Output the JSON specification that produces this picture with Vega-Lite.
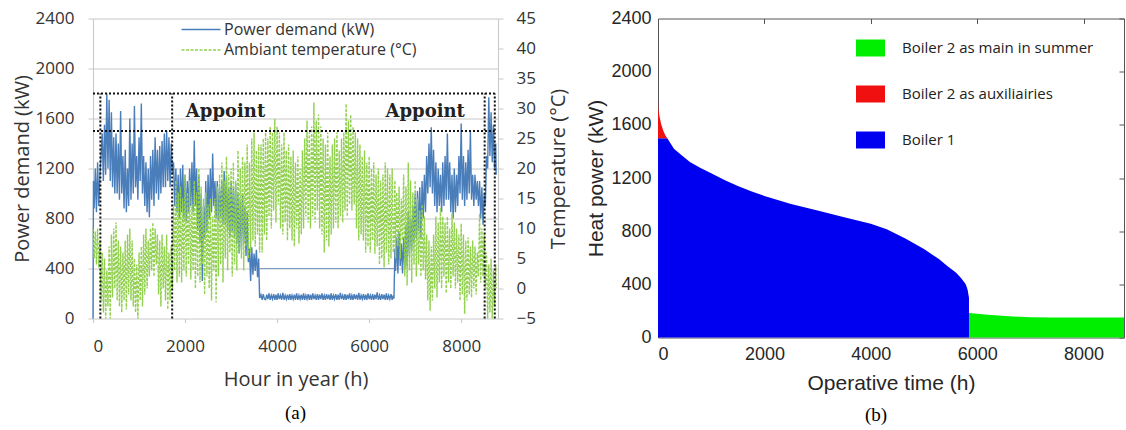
{
  "$schema": "https://vega.github.io/schema/vega-lite/v6.json",
  "background": "white",
  "padding": {"left": 12, "top": 8.5, "right": 0, "bottom": 0},
  "spacing": 16,
  "config": {"view": {"stroke": null}, "font": "Open Sans"},
  "resolve": {"scale": {"color": "independent"}, "legend": {"color": "independent"}},
  "datasets": {
    "demand": [
      {"h":0,"p":0,"t":10},{"h":10,"p":1100,"t":8},{"h":25,"p":880,"t":5},{"h":50,"p":1200,"t":9.5},{"h":75,"p":850,"t":4},
      {"h":100,"p":1250,"t":10},{"h":125,"p":900,"t":3.5},{"h":150,"p":1150,"t":8},{"h":175,"p":1300,"t":-2},{"h":200,"p":1480,"t":6},
      {"h":225,"p":1100,"t":-4},{"h":250,"p":1550,"t":5},{"h":275,"p":1150,"t":-5},{"h":300,"p":1800,"t":3},{"h":325,"p":1200,"t":-3},
      {"h":350,"p":1750,"t":7},{"h":375,"p":1100,"t":-5},{"h":400,"p":1650,"t":9},{"h":425,"p":1050,"t":-1.5},{"h":450,"p":1450,"t":10},
      {"h":475,"p":1000,"t":0},{"h":500,"p":1480,"t":11},{"h":525,"p":1000,"t":-2},{"h":550,"p":1400,"t":8},{"h":575,"p":950,"t":-3},
      {"h":600,"p":1660,"t":7},{"h":625,"p":1000,"t":-4},{"h":650,"p":1300,"t":6},{"h":675,"p":880,"t":-2},{"h":700,"p":1350,"t":8},
      {"h":725,"p":850,"t":-3.5},{"h":750,"p":1200,"t":9},{"h":775,"p":900,"t":-1},{"h":800,"p":1600,"t":10},{"h":825,"p":950,"t":-2},
      {"h":850,"p":1400,"t":8},{"h":875,"p":1000,"t":-3},{"h":900,"p":1700,"t":5},{"h":925,"p":1050,"t":-4},{"h":950,"p":1300,"t":4},
      {"h":975,"p":950,"t":-5},{"h":1000,"p":1450,"t":6},{"h":1025,"p":1100,"t":-2},{"h":1050,"p":1720,"t":7},{"h":1075,"p":1000,"t":-3},
      {"h":1100,"p":1300,"t":9},{"h":1125,"p":900,"t":-1},{"h":1150,"p":1250,"t":10},{"h":1175,"p":850,"t":0},{"h":1200,"p":1200,"t":8},
      {"h":1225,"p":810,"t":2},{"h":1250,"p":1300,"t":10},{"h":1275,"p":950,"t":3},{"h":1300,"p":1350,"t":11},{"h":1325,"p":900,"t":2},
      {"h":1350,"p":1450,"t":10},{"h":1375,"p":1000,"t":4},{"h":1400,"p":1350,"t":9},{"h":1425,"p":950,"t":-1},{"h":1450,"p":1380,"t":8},
      {"h":1475,"p":1000,"t":-3},{"h":1500,"p":1420,"t":9},{"h":1525,"p":1050,"t":0},{"h":1550,"p":1480,"t":7},{"h":1575,"p":1050,"t":-2},
      {"h":1600,"p":1500,"t":9},{"h":1625,"p":1100,"t":-3.5},{"h":1650,"p":1450,"t":6},{"h":1675,"p":1050,"t":-2},{"h":1700,"p":1400,"t":7},
      {"h":1725,"p":1150,"t":0},{"h":1750,"p":1250,"t":14},{"h":1775,"p":900,"t":3},{"h":1800,"p":1200,"t":18},{"h":1825,"p":850,"t":1},
      {"h":1850,"p":1150,"t":16},{"h":1875,"p":800,"t":2},{"h":1900,"p":1200,"t":17},{"h":1925,"p":850,"t":1},{"h":1950,"p":1230,"t":15},
      {"h":1975,"p":800,"t":3},{"h":2000,"p":1150,"t":19},{"h":2025,"p":780,"t":2},{"h":2050,"p":1100,"t":16},{"h":2075,"p":850,"t":4},
      {"h":2100,"p":1200,"t":18},{"h":2125,"p":900,"t":1.5},{"h":2150,"p":1250,"t":14},{"h":2175,"p":850,"t":3},{"h":2200,"p":1424,"t":18},
      {"h":2225,"p":900,"t":0},{"h":2250,"p":1200,"t":16},{"h":2275,"p":700,"t":2},{"h":2300,"p":1150,"t":20},{"h":2325,"p":600,"t":1},
      {"h":2350,"p":1000,"t":17},{"h":2375,"p":300,"t":4},{"h":2400,"p":900,"t":15},{"h":2425,"p":650,"t":-1},{"h":2450,"p":1100,"t":16},
      {"h":2475,"p":700,"t":2},{"h":2500,"p":1150,"t":14},{"h":2525,"p":800,"t":0},{"h":2550,"p":1200,"t":15},{"h":2575,"p":850,"t":-2},
      {"h":2600,"p":1320,"t":12},{"h":2625,"p":900,"t":3},{"h":2650,"p":1100,"t":15},{"h":2675,"p":800,"t":-2.3},{"h":2700,"p":1100,"t":17},
      {"h":2725,"p":780,"t":2},{"h":2750,"p":1050,"t":19},{"h":2775,"p":800,"t":4},{"h":2800,"p":1100,"t":21},{"h":2825,"p":750,"t":1},
      {"h":2850,"p":1180,"t":18},{"h":2875,"p":750,"t":5},{"h":2900,"p":1130,"t":22},{"h":2925,"p":700,"t":3},{"h":2950,"p":1050,"t":19},
      {"h":2975,"p":650,"t":6},{"h":3000,"p":1100,"t":20},{"h":3025,"p":700,"t":2},{"h":3050,"p":1050,"t":21},{"h":3075,"p":650,"t":4},
      {"h":3100,"p":1080,"t":18},{"h":3125,"p":600,"t":3},{"h":3150,"p":1000,"t":23},{"h":3175,"p":520,"t":6},{"h":3200,"p":950,"t":20},
      {"h":3225,"p":550,"t":5},{"h":3250,"p":1000,"t":22},{"h":3275,"p":600,"t":3},{"h":3300,"p":900,"t":21},{"h":3325,"p":500,"t":7},
      {"h":3350,"p":850,"t":24},{"h":3375,"p":450,"t":5},{"h":3400,"p":560,"t":21},{"h":3425,"p":300,"t":6},{"h":3450,"p":570,"t":25},
      {"h":3475,"p":350,"t":8},{"h":3500,"p":520,"t":26},{"h":3525,"p":380,"t":7},{"h":3550,"p":550,"t":23},{"h":3575,"p":330,"t":9},
      {"h":3600,"p":480,"t":24},{"h":3620,"p":165,"t":6},
      {"h":3650,"p":190,"t":24},{"h":3675,"p":150,"t":6},{"h":3700,"p":195,"t":25},{"h":3725,"p":155,"t":9},{"h":3750,"p":150,"t":26},
      {"h":3775,"p":190,"t":8},{"h":3800,"p":155,"t":25},{"h":3825,"p":200,"t":12},{"h":3850,"p":150,"t":27},{"h":3875,"p":185,"t":10},
      {"h":3900,"p":155,"t":26},{"h":3925,"p":195,"t":13},{"h":3950,"p":150,"t":28.3},{"h":3975,"p":190,"t":11},{"h":4000,"p":150,"t":27},
      {"h":4025,"p":200,"t":14},{"h":4050,"p":155,"t":26},{"h":4075,"p":185,"t":10},{"h":4100,"p":150,"t":24},{"h":4125,"p":205,"t":9},
      {"h":4150,"p":150,"t":26},{"h":4175,"p":185,"t":11},{"h":4200,"p":155,"t":23},{"h":4225,"p":190,"t":8},{"h":4250,"p":150,"t":24},
      {"h":4275,"p":195,"t":10},{"h":4300,"p":150,"t":22},{"h":4325,"p":185,"t":8},{"h":4350,"p":155,"t":23},{"h":4375,"p":190,"t":7},
      {"h":4400,"p":150,"t":21},{"h":4425,"p":200,"t":10},{"h":4450,"p":150,"t":22},{"h":4475,"p":185,"t":7.5},{"h":4500,"p":155,"t":20},
      {"h":4525,"p":190,"t":9},{"h":4550,"p":150,"t":23},{"h":4575,"p":200,"t":10},{"h":4600,"p":150,"t":25},{"h":4625,"p":185,"t":12},
      {"h":4650,"p":155,"t":28},{"h":4675,"p":195,"t":11},{"h":4700,"p":150,"t":26},{"h":4725,"p":190,"t":10},{"h":4750,"p":150,"t":27},
      {"h":4775,"p":200,"t":12},{"h":4800,"p":155,"t":31},{"h":4825,"p":185,"t":11},{"h":4850,"p":150,"t":28},{"h":4875,"p":195,"t":13},
      {"h":4900,"p":150,"t":29},{"h":4925,"p":190,"t":10},{"h":4950,"p":155,"t":27},{"h":4975,"p":200,"t":9},{"h":5000,"p":150,"t":25},
      {"h":5025,"p":185,"t":6},{"h":5050,"p":150,"t":24},{"h":5075,"p":195,"t":8},{"h":5100,"p":155,"t":26},{"h":5125,"p":190,"t":7},
      {"h":5150,"p":150,"t":22},{"h":5175,"p":200,"t":9},{"h":5200,"p":150,"t":24},{"h":5225,"p":185,"t":10},{"h":5250,"p":155,"t":25},
      {"h":5275,"p":195,"t":11},{"h":5300,"p":150,"t":26},{"h":5325,"p":190,"t":10},{"h":5350,"p":150,"t":23},{"h":5375,"p":205,"t":12},
      {"h":5400,"p":155,"t":25},{"h":5425,"p":185,"t":11},{"h":5450,"p":150,"t":26},{"h":5475,"p":195,"t":13},{"h":5500,"p":150,"t":30.8},
      {"h":5525,"p":190,"t":12},{"h":5550,"p":155,"t":28},{"h":5575,"p":200,"t":14},{"h":5600,"p":150,"t":29},{"h":5625,"p":185,"t":13},
      {"h":5650,"p":150,"t":27},{"h":5675,"p":195,"t":14},{"h":5700,"p":155,"t":26},{"h":5725,"p":190,"t":10},{"h":5750,"p":150,"t":25},
      {"h":5775,"p":205,"t":8},{"h":5800,"p":150,"t":24},{"h":5825,"p":185,"t":9},{"h":5850,"p":155,"t":22},{"h":5875,"p":195,"t":8},
      {"h":5900,"p":150,"t":23},{"h":5925,"p":190,"t":6},{"h":5950,"p":150,"t":21},{"h":5975,"p":200,"t":7},{"h":6000,"p":155,"t":22},
      {"h":6025,"p":185,"t":6},{"h":6050,"p":150,"t":20},{"h":6075,"p":195,"t":8},{"h":6100,"p":150,"t":21},{"h":6125,"p":190,"t":5.8},
      {"h":6150,"p":155,"t":19},{"h":6175,"p":210,"t":7},{"h":6200,"p":150,"t":20},{"h":6225,"p":185,"t":4},{"h":6250,"p":150,"t":18},
      {"h":6275,"p":195,"t":5},{"h":6300,"p":155,"t":19},{"h":6325,"p":190,"t":3.5},{"h":6350,"p":150,"t":21},{"h":6375,"p":200,"t":6},
      {"h":6400,"p":150,"t":20},{"h":6425,"p":185,"t":4},{"h":6450,"p":155,"t":19},{"h":6475,"p":195,"t":5},{"h":6500,"p":150,"t":20},
      {"h":6525,"p":185,"t":6},{"h":6540,"p":160,"t":8},
      {"h":6560,"p":560,"t":18},{"h":6575,"p":380,"t":5},{"h":6600,"p":650,"t":16},{"h":6625,"p":360,"t":7},{"h":6650,"p":700,"t":17},
      {"h":6675,"p":420,"t":5},{"h":6700,"p":600,"t":15},{"h":6725,"p":360,"t":8},{"h":6750,"p":650,"t":19},{"h":6775,"p":400,"t":2},
      {"h":6800,"p":750,"t":17},{"h":6825,"p":420,"t":0.5},{"h":6850,"p":850,"t":21},{"h":6875,"p":500,"t":3},{"h":6900,"p":800,"t":18},
      {"h":6925,"p":550,"t":1},{"h":6950,"p":900,"t":16},{"h":6975,"p":600,"t":4},{"h":7000,"p":1000,"t":18},{"h":7025,"p":640,"t":2},
      {"h":7050,"p":1020,"t":15},{"h":7075,"p":700,"t":4},{"h":7100,"p":1050,"t":13},{"h":7125,"p":650,"t":2},{"h":7150,"p":1100,"t":14},
      {"h":7175,"p":800,"t":3},{"h":7200,"p":1150,"t":12},{"h":7225,"p":850,"t":1.5},{"h":7250,"p":1300,"t":9},{"h":7275,"p":1000,"t":-2},
      {"h":7300,"p":1400,"t":8},{"h":7325,"p":1050,"t":-3.7},{"h":7350,"p":1530,"t":7},{"h":7375,"p":1000,"t":-2},{"h":7400,"p":1350,"t":9},
      {"h":7425,"p":900,"t":0},{"h":7450,"p":1250,"t":12},{"h":7475,"p":850,"t":-1.5},{"h":7500,"p":1200,"t":11},{"h":7525,"p":900,"t":1},
      {"h":7550,"p":1150,"t":13.5},{"h":7575,"p":850,"t":0},{"h":7600,"p":1250,"t":12},{"h":7625,"p":900,"t":2},{"h":7650,"p":1300,"t":11},
      {"h":7675,"p":950,"t":-0.8},{"h":7700,"p":1480,"t":12},{"h":7725,"p":950,"t":1},{"h":7750,"p":1250,"t":10},{"h":7775,"p":850,"t":0},
      {"h":7800,"p":1150,"t":12.5},{"h":7825,"p":800,"t":2},{"h":7850,"p":1200,"t":11},{"h":7875,"p":850,"t":0},{"h":7900,"p":1150,"t":10},
      {"h":7925,"p":900,"t":1},{"h":7950,"p":1300,"t":9},{"h":7975,"p":1000,"t":-2},{"h":8000,"p":1560,"t":10.8},{"h":8025,"p":950,"t":-1},
      {"h":8050,"p":1300,"t":9},{"h":8075,"p":900,"t":-4.2},{"h":8100,"p":1250,"t":8},{"h":8125,"p":950,"t":-2},{"h":8150,"p":1350,"t":8.5},
      {"h":8175,"p":1000,"t":-1},{"h":8200,"p":1500,"t":7},{"h":8225,"p":950,"t":-1.5},{"h":8250,"p":1150,"t":8},{"h":8275,"p":900,"t":0},
      {"h":8300,"p":1150,"t":7},{"h":8325,"p":950,"t":-1},{"h":8350,"p":1100,"t":6},{"h":8375,"p":900,"t":2},{"h":8400,"p":1100,"t":12.5},
      {"h":8425,"p":800,"t":1},{"h":8450,"p":1050,"t":10},{"h":8475,"p":750,"t":2},{"h":8500,"p":1000,"t":9},{"h":8525,"p":900,"t":0},
      {"h":8550,"p":1300,"t":6},{"h":8575,"p":1200,"t":-5},{"h":8600,"p":1770,"t":4},{"h":8625,"p":1300,"t":-4},{"h":8650,"p":1650,"t":5},
      {"h":8675,"p":1250,"t":-5},{"h":8700,"p":1550,"t":3},{"h":8725,"p":1200,"t":-3},{"h":8750,"p":1400,"t":4},{"h":8760,"p":1150,"t":0}
    ],
    "dots": [
      {"h":0,"h2":8730,"p":1800,"p2":1800},
      {"h":0,"h2":8730,"p":1500,"p2":1500},
      {"h":160,"h2":160,"p":0,"p2":1800},
      {"h":1720,"h2":1720,"p":0,"p2":1800},
      {"h":8510,"h2":8510,"p":0,"p2":1800},
      {"h":8730,"h2":8730,"p":0,"p2":1800}
    ],
    "frame": [{"h":3610,"h2":6545,"p":400,"p2":400}],
    "appoint": [{"h":2880,"p":1650,"label":"Appoint"},{"h":7218,"p":1650,"label":"Appoint"}],
    "heat": [
      {"s":"Boiler 1","h":0,"lo":0,"hi":1500},{"s":"Boiler 1","h":175,"lo":0,"hi":1500},{"s":"Boiler 1","h":300,"lo":0,"hi":1420},
      {"s":"Boiler 1","h":450,"lo":0,"hi":1370},{"s":"Boiler 1","h":600,"lo":0,"hi":1320},{"s":"Boiler 1","h":800,"lo":0,"hi":1275},
      {"s":"Boiler 1","h":1000,"lo":0,"hi":1235},{"s":"Boiler 1","h":1250,"lo":0,"hi":1185},{"s":"Boiler 1","h":1500,"lo":0,"hi":1140},
      {"s":"Boiler 1","h":1750,"lo":0,"hi":1100},{"s":"Boiler 1","h":2000,"lo":0,"hi":1065},{"s":"Boiler 1","h":2500,"lo":0,"hi":1005},
      {"s":"Boiler 1","h":3000,"lo":0,"hi":955},{"s":"Boiler 1","h":3500,"lo":0,"hi":905},{"s":"Boiler 1","h":4000,"lo":0,"hi":855},
      {"s":"Boiler 1","h":4300,"lo":0,"hi":815},{"s":"Boiler 1","h":4650,"lo":0,"hi":745},{"s":"Boiler 1","h":5000,"lo":0,"hi":665},
      {"s":"Boiler 1","h":5280,"lo":0,"hi":590},{"s":"Boiler 1","h":5450,"lo":0,"hi":535},{"s":"Boiler 1","h":5600,"lo":0,"hi":489},
      {"s":"Boiler 1","h":5700,"lo":0,"hi":445},{"s":"Boiler 1","h":5785,"lo":0,"hi":400},{"s":"Boiler 1","h":5820,"lo":0,"hi":360},
      {"s":"Boiler 1","h":5846,"lo":0,"hi":300},
      {"s":"Boiler 2 as auxiliairies","h":0,"lo":1500,"hi":1800},{"s":"Boiler 2 as auxiliairies","h":6,"lo":1500,"hi":1715},
      {"s":"Boiler 2 as auxiliairies","h":30,"lo":1500,"hi":1660},{"s":"Boiler 2 as auxiliairies","h":60,"lo":1500,"hi":1605},
      {"s":"Boiler 2 as auxiliairies","h":100,"lo":1500,"hi":1555},{"s":"Boiler 2 as auxiliairies","h":140,"lo":1500,"hi":1520},
      {"s":"Boiler 2 as auxiliairies","h":175,"lo":1500,"hi":1500},
      {"s":"Boiler 2 as main in summer","h":5846,"lo":0,"hi":185},{"s":"Boiler 2 as main in summer","h":5900,"lo":0,"hi":182},
      {"s":"Boiler 2 as main in summer","h":6000,"lo":0,"hi":178},{"s":"Boiler 2 as main in summer","h":6200,"lo":0,"hi":172},
      {"s":"Boiler 2 as main in summer","h":6400,"lo":0,"hi":165},{"s":"Boiler 2 as main in summer","h":6600,"lo":0,"hi":160},
      {"s":"Boiler 2 as main in summer","h":6800,"lo":0,"hi":156},{"s":"Boiler 2 as main in summer","h":7000,"lo":0,"hi":153},
      {"s":"Boiler 2 as main in summer","h":7400,"lo":0,"hi":150},{"s":"Boiler 2 as main in summer","h":8000,"lo":0,"hi":150},
      {"s":"Boiler 2 as main in summer","h":8760,"lo":0,"hi":150}
    ]
  },
  "hconcat": [
    {
      "width": 405,
      "height": 300,
      "view": {"stroke": null},
      "title": {"text": "(a)", "orient": "bottom", "anchor": "middle", "frame": "group", "font": "Liberation Serif", "fontSize": 19, "fontWeight": "normal", "color": "#000", "offset": 14},
      "layer": [
        {
          "data": {"name": "demand"},
          "mark": {"type": "line", "strokeWidth": 1.4},
          "encoding": {
            "x": {"field": "h", "type": "quantitative", "scale": {"domain": [0, 8800], "nice": false},
                  "axis": {"values": [0, 2000, 4000, 6000, 8000], "format": "d", "grid": false, "domain": false, "ticks": true, "tickSize": 4, "tickColor": "#c8c8c8",
                           "labelPadding": 16, "labelFont": "Open Sans", "labelFontSize": 17, "labelColor": "#333",
                           "title": "Hour in year (h)", "titleFont": "Open Sans", "titleFontSize": 20, "titleFontWeight": "normal", "titleColor": "#333", "titlePadding": 15}},
            "y": {"field": "p", "type": "quantitative", "scale": {"domain": [0, 2400], "nice": false},
                  "axis": {"values": [0, 400, 800, 1200, 1600, 2000, 2400], "format": "d", "grid": true, "gridColor": "#c8c8c8", "domain": true, "domainColor": "#c8c8c8",
                           "ticks": true, "tickSize": 5, "tickColor": "#c8c8c8", "labelPadding": 14, "labelFont": "Open Sans", "labelFontSize": 17, "labelColor": "#333",
                           "title": "Power demand (kW)", "titleFont": "Open Sans", "titleFontSize": 20, "titleFontWeight": "normal", "titleColor": "#333", "titlePadding": 3}},
            "color": {"datum": "Power demand (kW)",
                      "scale": {"domain": ["Power demand (kW)", "Ambiant temperature (°C)"], "range": ["#4a7ebb", "#92d050"]},
                      "legend": {"orient": "none", "legendX": 97, "legendY": 0, "title": null, "padding": 0, "symbolType": "M-2,0H2", "symbolSize": 380,
                                 "symbolStrokeWidth": 1.6, "rowPadding": 1.5, "labelOffset": 12, "labelFont": "Open Sans", "labelFontSize": 16,
                                 "labelColor": "#333", "labelLimit": 0,
                                 "encode": {"symbols": {"update": {"strokeDash": {"signal": "datum.value == 'Ambiant temperature (°C)' ? [3, 1.5] : []"}}}}}}
          }
        },
        {
          "data": {"name": "demand"},
          "mark": {"type": "line", "strokeWidth": 1.4, "strokeDash": [3, 1.5]},
          "encoding": {
            "x": {"field": "h", "type": "quantitative", "scale": {"domain": [0, 8800], "nice": false}},
            "y": {"field": "t", "type": "quantitative", "scale": {"domain": [-5, 45], "nice": false},
                  "axis": {"orient": "right", "values": [-5, 0, 5, 10, 15, 20, 25, 30, 35, 40, 45], "grid": false, "domain": true, "domainColor": "#c8c8c8",
                           "ticks": true, "tickSize": 5, "tickColor": "#c8c8c8", "labelPadding": 13, "labelFont": "Open Sans", "labelFontSize": 17, "labelColor": "#333",
                           "title": "Temperature (°C)", "titleAngle": 270, "titleBaseline": "top", "titleFont": "Open Sans", "titleFontSize": 20, "titleFontWeight": "normal",
                           "titleColor": "#333", "titlePadding": 13}},
            "color": {"datum": "Ambiant temperature (°C)"}
          }
        },
        {
          "layer": [
            {
              "data": {"name": "frame"},
              "mark": {"type": "rule", "color": "#7f9cc4", "strokeWidth": 1},
              "encoding": {
                "x": {"field": "h", "type": "quantitative", "scale": {"domain": [0, 8800], "nice": false}},
                "x2": {"field": "h2"},
                "y": {"field": "p", "type": "quantitative", "scale": {"domain": [0, 2400], "nice": false}, "axis": null},
                "y2": {"field": "p2"}
              }
            },
            {
              "data": {"name": "dots"},
              "mark": {"type": "rule", "color": "#111", "strokeWidth": 2, "strokeDash": [2, 2]},
              "encoding": {
                "x": {"field": "h", "type": "quantitative", "scale": {"domain": [0, 8800], "nice": false}},
                "x2": {"field": "h2"},
                "y": {"field": "p", "type": "quantitative", "scale": {"domain": [0, 2400], "nice": false}, "axis": null},
                "y2": {"field": "p2"}
              }
            },
            {
              "data": {"name": "appoint"},
              "mark": {"type": "text", "font": "DejaVu Serif", "fontWeight": "bold", "fontSize": 18, "color": "#222", "baseline": "middle", "align": "center"},
              "encoding": {
                "x": {"field": "h", "type": "quantitative", "scale": {"domain": [0, 8800], "nice": false}},
                "y": {"field": "p", "type": "quantitative", "scale": {"domain": [0, 2400], "nice": false}, "axis": null},
                "text": {"field": "label"}
              }
            }
          ]
        }
      ],
      "resolve": {"scale": {"y": "independent"}}
    },
    {
      "width": 466,
      "height": 319,
      "view": {"stroke": "#555", "strokeWidth": 1},
      "title": {"text": "(b)", "orient": "bottom", "anchor": "middle", "frame": "group", "font": "Liberation Serif", "fontSize": 19, "fontWeight": "normal", "color": "#000", "offset": 12.5, "dx": -15},
      "data": {"name": "heat"},
      "layer": [
        {
          "mark": {"type": "area", "interpolate": "linear"},
          "encoding": {
            "x": {"field": "h", "type": "quantitative", "scale": {"domain": [0, 8760], "nice": false},
                  "axis": {"values": [0, 2000, 4000, 6000, 8000], "format": "d", "grid": false, "domain": false, "ticks": false, "tickSize": 0, "labelPadding": 8,
                           "labelFont": "Liberation Sans", "labelFontSize": 18, "labelColor": "#262626",
                           "title": "Operative time (h)", "titleFont": "Liberation Sans", "titleFontSize": 21, "titleFontWeight": "normal", "titleColor": "#262626", "titlePadding": 9}},
            "y": {"field": "hi", "type": "quantitative", "stack": null, "scale": {"domain": [0, 2400], "nice": false},
                  "axis": {"values": [0, 400, 800, 1200, 1600, 2000, 2400], "format": "d", "grid": false, "domain": false, "ticks": false, "tickSize": 0, "labelPadding": 7,
                           "labelFont": "Liberation Sans", "labelFontSize": 18, "labelColor": "#262626",
                           "title": "Heat power (kW)", "titleFont": "Liberation Sans", "titleFontSize": 21, "titleFontWeight": "normal", "titleColor": "#262626", "titlePadding": 4}},
            "y2": {"field": "lo"},
            "color": {"field": "s", "type": "nominal",
                      "scale": {"domain": ["Boiler 2 as main in summer", "Boiler 2 as auxiliairies", "Boiler 1"], "range": ["#00ee00", "#f01010", "#0000f0"]},
                      "legend": {"orient": "none", "legendX": 198, "legendY": 15, "title": null, "padding": 0, "symbolType": "M-1,-0.586H1V0.586H-1Z",
                                 "symbolSize": 841, "symbolOpacity": 1, "symbolStrokeWidth": 0, "rowPadding": 23, "labelOffset": 17,
                                 "labelFont": "Open Sans", "labelFontSize": 15, "labelColor": "#222", "labelLimit": 0}}
          }
        },
        {
          "mark": {"type": "point", "opacity": 0},
          "encoding": {
            "x": {"field": "h", "type": "quantitative", "scale": {"domain": [0, 8760], "nice": false},
                  "axis": {"orient": "top", "values": [0, 2000, 4000, 6000, 8000], "labels": false, "title": null, "grid": false, "domain": false,
                           "ticks": true, "tickSize": -5, "tickColor": "#555"}},
            "y": {"field": "hi", "type": "quantitative", "scale": {"domain": [0, 2400], "nice": false},
                  "axis": {"orient": "right", "values": [0, 400, 800, 1200, 1600, 2000, 2400], "labels": false, "title": null, "grid": false, "domain": false,
                           "ticks": true, "tickSize": -5, "tickColor": "#555"}}
          }
        }
      ],
      "resolve": {"axis": {"x": "independent", "y": "independent"}}
    }
  ]
}
